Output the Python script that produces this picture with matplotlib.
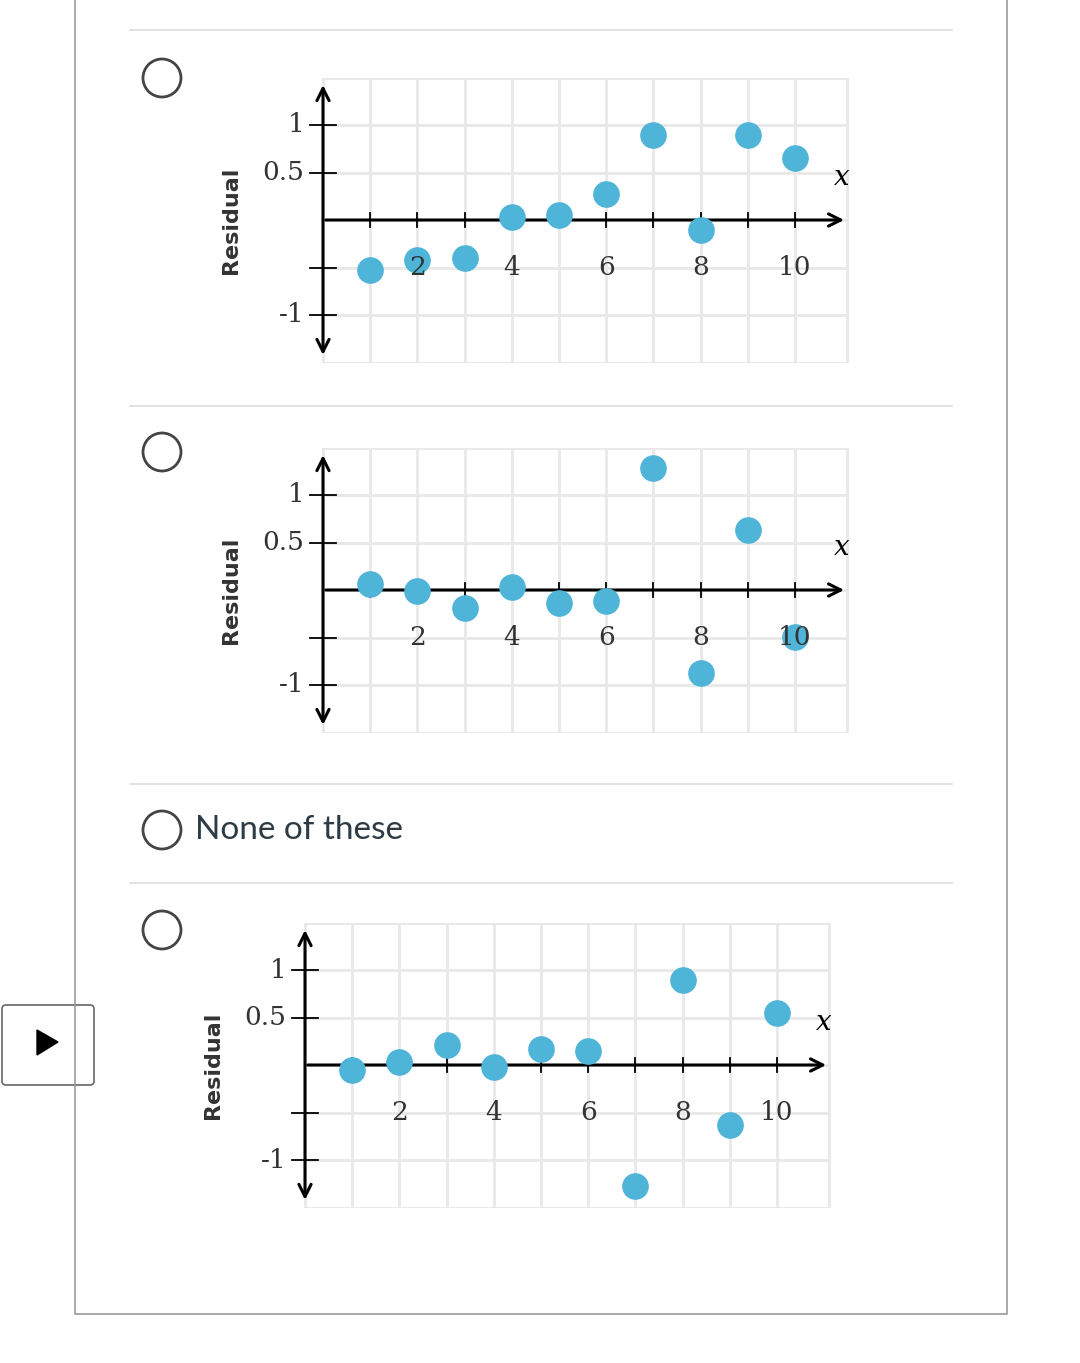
import matplotlib.pyplot as plt
from matplotlib import patches
import numpy as np

W, H = 1080, 1363
xs = np.arange(1, 11)
res_a = [-0.53, -0.42, -0.40, 0.03, 0.05, 0.27, 0.90, -0.10, 0.90, 0.65]
res_b = [0.06, -0.01, -0.19, 0.03, -0.14, -0.12, 1.28, -0.87, 0.63, -0.49]
res_c = [-0.05, 0.03, 0.21, -0.02, 0.17, 0.15, -1.27, 0.89, -0.63, 0.55]
xticks = [2, 4, 6, 8, 10]
yticks = [1, 0.5, -1]

fig = plt.figure(figsize=(W / 100, H / 100), dpi=100)
bg = fig.add_axes([0, 0, 1, 1])
bg.set_xlim(0, W)
bg.set_ylim(H, 0)
bg.axis('off')

# page frame and separators
bg.plot([75, 75, 1007, 1007], [0, 1314, 1314, 0], color='#999999', lw=1.2)
for y in [30, 406, 784, 883]:
    bg.plot([130, 952], [y, y], color='#dddddd', lw=1.2)
for y in [78, 452, 830, 930]:
    bg.add_patch(patches.Circle((162, y), 19, fill=False, ec='#444444', lw=2))
bg.text(195, 830, 'None of these', fontsize=24, va='center', color='#2d3b45',
        family='Lato')
bg.add_patch(patches.FancyBboxPatch((2, 1005), 92, 80, boxstyle='round,pad=0,rounding_size=4',
                                    fc='white', ec='#666666', lw=1.2))
bg.add_patch(patches.Polygon([[37, 1030], [37, 1055], [58, 1042]], color='black'))

def residual_plot(x0, y0, vals):
    ux, uy = 47.2, 95.0
    xmin, xmax, ymin, ymax = -0.6, 11.15, -1.5, 1.5
    left = x0 + xmin * ux
    bottom = y0 - ymin * uy
    w = (xmax - xmin) * ux
    h = (ymax - ymin) * uy
    ax = fig.add_axes([left / W, 1 - bottom / H, w / W, h / H])
    ax.set_xlim(xmin, xmax)
    ax.set_ylim(ymin, ymax)
    ax.axis('off')
    for gx in list(range(0, 11)) + [11.1]:
        ax.plot([gx, gx], [-1.5, 1.5], color='#e8e8e8', lw=2, zorder=0)
    for gy in np.arange(-1.5, 1.51, 0.5):
        ax.plot([0, 11.1], [gy, gy], color='#e8e8e8', lw=2, zorder=0)
    ax.annotate('', xy=(0, 1.45), xytext=(0, -1.45),
                arrowprops=dict(arrowstyle='<->', lw=2.2, color='black',
                                mutation_scale=22), zorder=2)
    ax.annotate('', xy=(11.1, 0), xytext=(0, 0),
                arrowprops=dict(arrowstyle='->', lw=2.2, color='black',
                                mutation_scale=22), zorder=2)
    for t in range(1, 11):
        ax.plot([t, t], [-0.07, 0.07], color='black', lw=1.3, zorder=2)
    for t in [1, 0.5, -0.5, -1]:
        ax.plot([-0.28, 0.28], [t, t], color='black', lw=1.3, zorder=2)
    for t in xticks:
        ax.text(t, -0.5, str(t), ha='center', va='center', fontsize=19,
                family='DejaVu Serif', color='#333333', zorder=5)
    for t in yticks:
        ax.text(-0.4, t, '{:g}'.format(t), ha='right', va='center', fontsize=19,
                family='DejaVu Serif', color='#333333')
    ax.text(11.0, 0.45, 'x', ha='center', va='center', fontsize=20,
            family='DejaVu Serif', style='italic')
    ax.text(-1.95, 0, 'Residual', rotation=90, ha='center', va='center',
            fontsize=16, fontweight='bold', color='#333333', clip_on=False)
    ax.scatter(xs, vals, s=330, color='#4eb4d8', zorder=4, clip_on=False)

residual_plot(323, 220, res_a)
residual_plot(323, 590, res_b)
residual_plot(305, 1065, res_c)

fig.savefig('out.png', dpi=100)
